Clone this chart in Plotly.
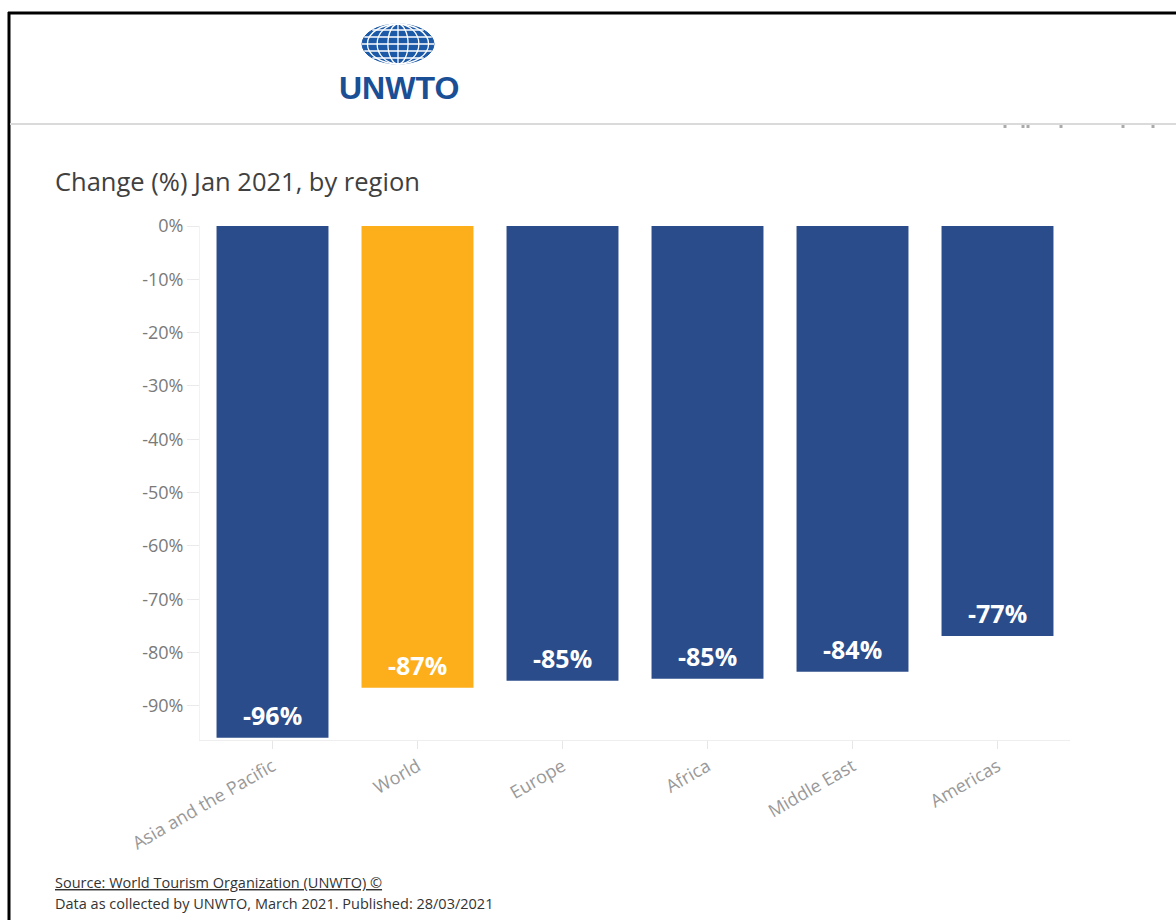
import math
import plotly.graph_objects as go

# ---- data ----
regions = ["Asia and the Pacific", "World", "Europe", "Africa", "Middle East", "Americas"]
change_pct = [-96.0, -86.6, -85.3, -84.9, -83.6, -76.9]
value_labels = ["-96%", "-87%", "-85%", "-85%", "-84%", "-77%"]
bar_colors = ["#2B4C8A", "#FDAE1B", "#2B4C8A", "#2B4C8A", "#2B4C8A", "#2B4C8A"]
y_tick_vals = [0, -10, -20, -30, -40, -50, -60, -70, -80, -90]
y_tick_text = ["0%", "-10%", "-20%", "-30%", "-40%", "-50%", "-60%", "-70%", "-80%", "-90%"]

W, H = 1176, 920
L, R, T, B = 200, 1070, 226, 740


def px(x):
    return (x - L) / (R - L)


def py(y):
    return (B - y) / (B - T)


fig = go.Figure()
fig.add_trace(go.Bar(
    x=regions, y=change_pct,
    marker=dict(color=bar_colors, line=dict(width=0)),
    hoverinfo="skip",
))

annotations = []
for r, v, t in zip(regions, change_pct, value_labels):
    annotations.append(dict(
        x=r, y=v, xref="x", yref="y", text="<b>" + t + "</b>", showarrow=False,
        yanchor="middle", yshift=23,
        font=dict(family="Open Sans", size=25, color="white"),
    ))

annotations += [
    dict(x=px(53), y=py(181), xref="paper", yref="paper", xanchor="left", yanchor="middle",
         text="Change (%) Jan 2021, by region", showarrow=False,
         font=dict(family="Open Sans", size=25.5, color="#404040")),
    dict(x=px(53), y=py(882), xref="paper", yref="paper", xanchor="left", yanchor="middle",
         text='<span style="text-decoration:underline">Source: World Tourism Organization (UNWTO) ©</span>',
         showarrow=False, font=dict(family="Open Sans", size=14.5, color="#333333")),
    dict(x=px(53), y=py(903), xref="paper", yref="paper", xanchor="left", yanchor="middle",
         text="Data as collected by UNWTO, March 2021. Published: 28/03/2021",
         showarrow=False, font=dict(family="Open Sans", size=14.5, color="#333333")),
    dict(x=px(399), y=py(88), xref="paper", yref="paper", xanchor="center", yanchor="middle",
         text="<b>UNWTO</b>", showarrow=False,
         font=dict(family="Liberation Sans", size=32, color="#1A4E95")),
]

shapes = []
# frame
shapes.append(dict(type="line", xref="paper", yref="paper", x0=px(8), x1=px(1176), y0=py(13), y1=py(13),
                   line=dict(color="black", width=3)))
shapes.append(dict(type="line", xref="paper", yref="paper", x0=px(9), x1=px(9), y0=py(12), y1=py(920),
                   line=dict(color="black", width=3)))
# separator
shapes.append(dict(type="line", xref="paper", yref="paper", x0=px(10), x1=px(1176), y0=py(124), y1=py(124),
                   line=dict(color="#DADADA", width=2)))
for mx in [1005, 1023, 1028, 1061, 1123, 1153]:
    shapes.append(dict(type="rect", xref="paper", yref="paper", x0=px(mx - 1.5), x1=px(mx + 1.5),
                       y0=py(125), y1=py(128), line=dict(width=0), fillcolor="#AAAAAA"))

# globe logo
cx, cy, rx, ry = 398, 44, 36, 20
shapes.append(dict(type="circle", xref="paper", yref="paper", x0=px(cx - rx), x1=px(cx + rx),
                   y0=py(cy - ry), y1=py(cy + ry), fillcolor="#1C5AA8", line=dict(color="#1C5AA8", width=1)))
for k in [0.28, 0.58, 0.85]:
    shapes.append(dict(type="circle", xref="paper", yref="paper", x0=px(cx - rx * k), x1=px(cx + rx * k),
                       y0=py(cy - ry), y1=py(cy + ry), line=dict(color="white", width=1.3)))
shapes.append(dict(type="line", xref="paper", yref="paper", x0=px(cx), x1=px(cx),
                   y0=py(cy - ry), y1=py(cy + ry), line=dict(color="white", width=1.3)))
for dy in [-14, -7, 0, 7, 14]:
    hw = rx * math.sqrt(max(0.0, 1 - (dy / ry) ** 2))
    shapes.append(dict(type="line", xref="paper", yref="paper", x0=px(cx - hw), x1=px(cx + hw),
                       y0=py(cy + dy), y1=py(cy + dy), line=dict(color="white", width=1.3)))

fig.update_layout(
    width=W, height=H,
    margin=dict(l=L, r=W - R, t=T, b=H - B, pad=0),
    paper_bgcolor="white", plot_bgcolor="white",
    bargap=0.228, showlegend=False,
    annotations=annotations, shapes=shapes,
    xaxis=dict(
        showgrid=False, showline=True, linecolor="#EEEEEE", linewidth=1,
        ticks="outside", ticklen=8, tickcolor="#E6E6E6",
        tickangle=-30, tickfont=dict(family="Open Sans", size=18, color="#999999"),
        fixedrange=True,
    ),
    yaxis=dict(
        range=[-96.4, 0], tickvals=y_tick_vals, ticktext=y_tick_text,
        showgrid=False, zeroline=False, showline=True, linecolor="#F2F2F2", linewidth=1,
        ticks="outside", ticklen=12, tickcolor="#EAEAEA",
        tickfont=dict(family="Open Sans", size=18, color="#7A7A7A"),
        fixedrange=True,
    ),
)

fig.write_html("out.html", config={"displayModeBar": False},
               post_script="document.body.style.margin='0';document.body.style.overflow='hidden';")
